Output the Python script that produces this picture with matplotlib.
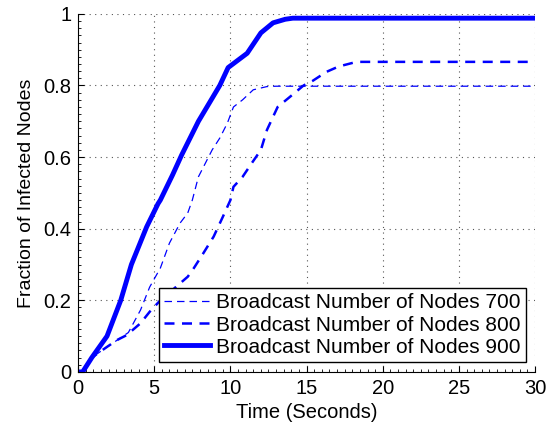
import matplotlib
matplotlib.use("Agg")
import matplotlib.pyplot as plt
from matplotlib.ticker import MultipleLocator

plt.rcParams['font.family'] = ['Liberation Sans', 'DejaVu Sans']

# Courbes (temps en s, fraction de noeuds infectes)
t_700 = [0, 0.3, 0.9, 1.9, 2.4, 3.3, 4.1, 4.7, 5.4, 6.0, 6.7, 7.2, 7.5, 7.9,
         8.8, 9.3, 9.8, 10.2, 10.8, 11.5, 12.4, 13.0, 30]
y_700 = [0, 0, 0.04, 0.07, 0.084, 0.11, 0.173, 0.237, 0.29, 0.36, 0.416, 0.444,
         0.48, 0.545, 0.62, 0.653, 0.695, 0.74, 0.76, 0.788, 0.797, 0.798, 0.798]

t_800 = [0, 0.3, 0.9, 1.9, 2.6, 3.2, 4.1, 4.7, 5.4, 6.2, 7.2, 7.6, 8.2, 8.9,
         9.5, 10.0, 10.2, 10.8, 11.4, 12.0, 12.4, 13.1, 13.9, 14.8, 15.4, 16.3,
         17.1, 18.1, 18.5, 30]
y_800 = [0, 0, 0.04, 0.07, 0.09, 0.103, 0.136, 0.168, 0.2, 0.229, 0.266, 0.29,
         0.33, 0.378, 0.433, 0.48, 0.517, 0.545, 0.583, 0.62, 0.676, 0.74,
         0.768, 0.8, 0.813, 0.838, 0.853, 0.864, 0.866, 0.866]

t_900 = [0, 0.3, 0.9, 1.9, 2.8, 3.5, 4.5, 5.25, 5.4, 6.2, 6.8, 7.9, 9.3, 9.85,
         11.1, 12.0, 12.8, 13.6, 14.1, 30]
y_900 = [0, 0, 0.04, 0.1, 0.2, 0.3, 0.405, 0.47, 0.48, 0.55, 0.606, 0.7, 0.8,
         0.85, 0.89, 0.947, 0.975, 0.985, 0.988, 0.988]

labels = ['Broadcast Number of Nodes 700',
          'Broadcast Number of Nodes 800',
          'Broadcast Number of Nodes 900']

fig = plt.figure(figsize=(5.46, 4.34), dpi=100)
ax = fig.add_axes([0.143, 0.143, 0.837, 0.825])

ax.plot(t_700, y_700, color='#0000ff', lw=0.9, dashes=(6, 4), label=labels[0])
ax.plot(t_800, y_800, color='#0000ff', lw=1.8, dashes=(4, 3), label=labels[1])
ax.plot(t_900, y_900, color='#0000ff', lw=3.5, label=labels[2])

ax.set_xlim(0, 30)
ax.set_ylim(0, 1)
ax.xaxis.set_major_locator(MultipleLocator(5))
ax.xaxis.set_minor_locator(MultipleLocator(0.5))
ax.yaxis.set_major_locator(MultipleLocator(0.2))
ax.yaxis.set_minor_locator(MultipleLocator(0.02))
ax.set_yticks([0, 0.2, 0.4, 0.6, 0.8, 1.0])
ax.set_yticklabels(['0', '0.2', '0.4', '0.6', '0.8', '1'])

ax.tick_params(which='both', direction='in', labelsize=14.5)
ax.tick_params(which='major', length=4, pad=5)
ax.tick_params(which='minor', length=2)
ax.spines['top'].set_visible(False)
ax.spines['right'].set_visible(False)

ax.grid(True, which='major', color='#555555', linestyle=(0, (1, 4)), linewidth=0.8)

ax.set_xlabel('Time (Seconds)', fontsize=14.5, labelpad=4)
ax.set_ylabel('Fraction of Infected Nodes', fontsize=14, labelpad=6)

leg = ax.legend(loc='lower right', bbox_to_anchor=(0.98, 0.028), fontsize=15,
                fancybox=False, framealpha=1, edgecolor='black',
                handlelength=2.2, borderpad=0.25, labelspacing=0.15,
                handletextpad=0.3, borderaxespad=0)
leg.get_frame().set_linewidth(1.0)

fig.savefig('out.png', dpi=100)
